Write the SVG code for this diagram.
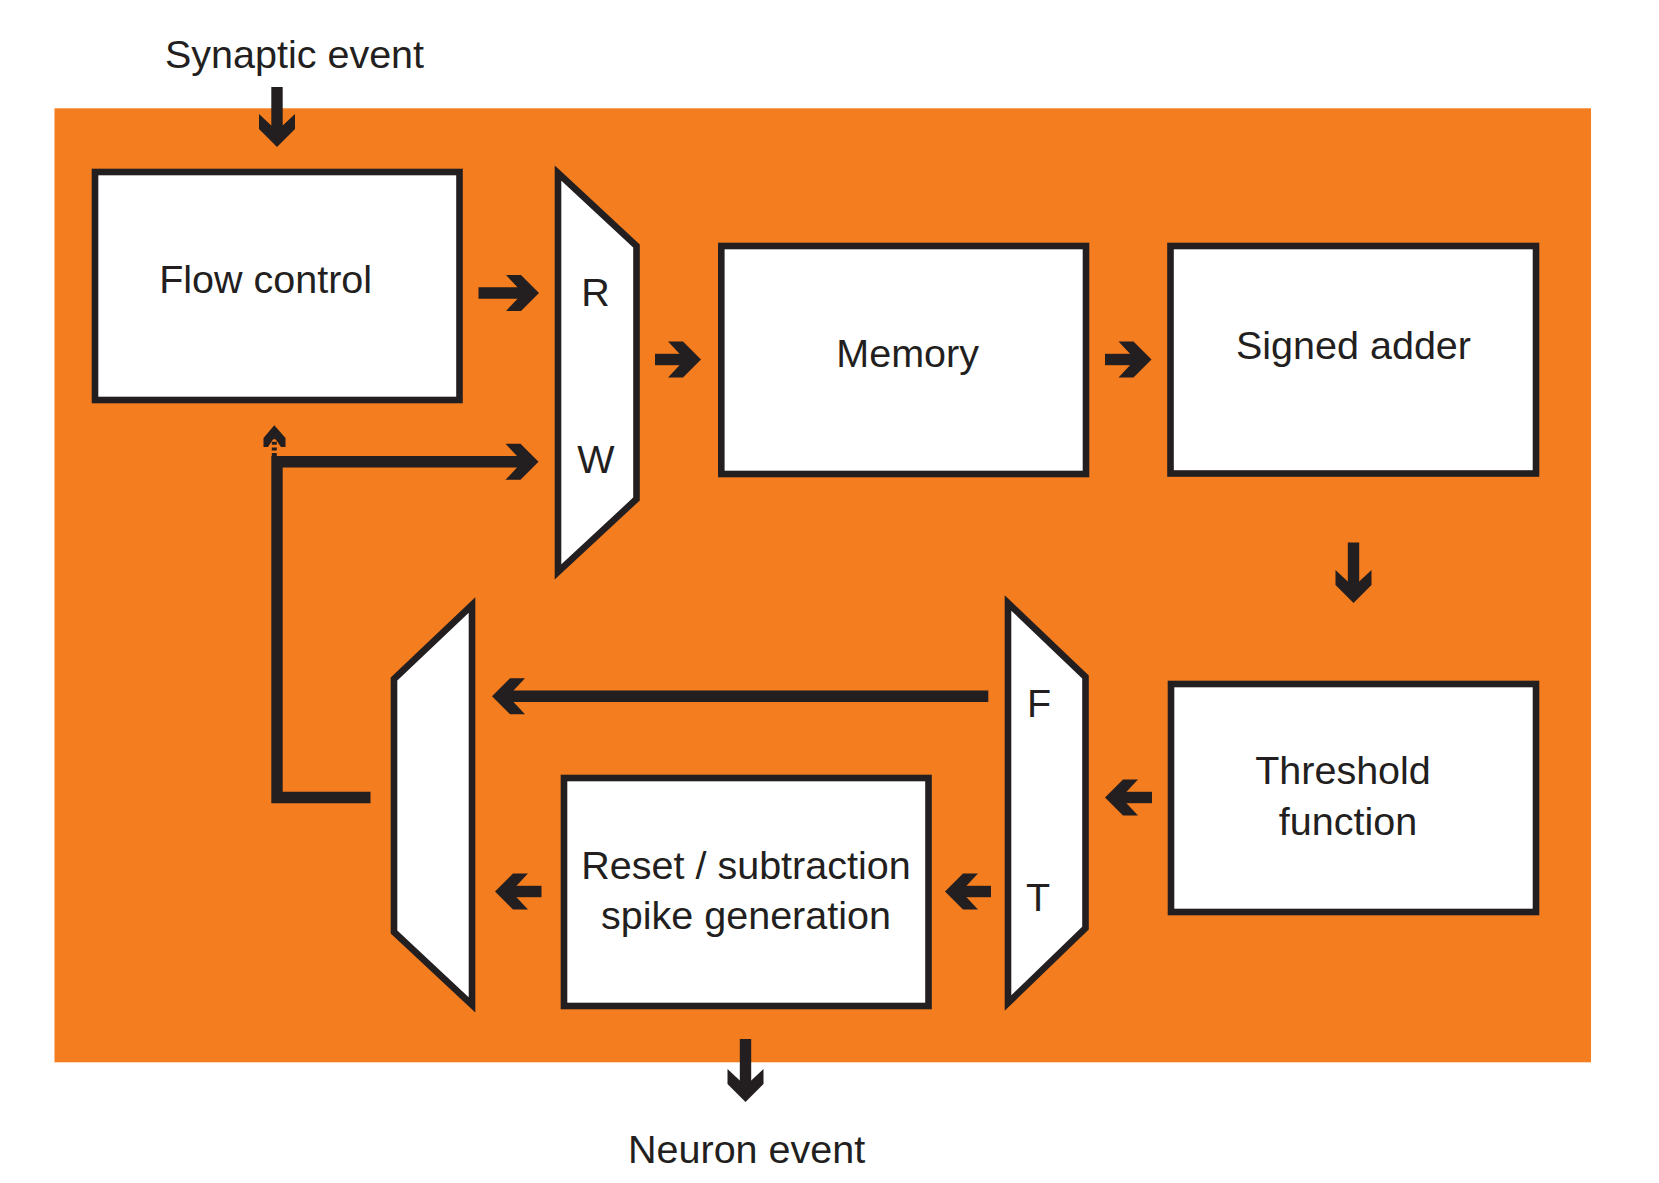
<svg xmlns="http://www.w3.org/2000/svg" xmlns:xlink="http://www.w3.org/1999/xlink" width="1659" height="1183" viewBox="0 0 1659 1183">
<style>
.box{fill:#fff;stroke:#231f20;stroke-width:6.6;stroke-linejoin:miter;stroke-miterlimit:10}
.lbl{font-family:"Liberation Sans",Arial,sans-serif;font-size:39.5px;fill:#231f20;text-anchor:middle}
.shaft{stroke:#231f20;stroke-width:11.4;fill:none;stroke-linecap:butt;stroke-linejoin:miter}
.hd{fill:#231f20}
</style>
<defs>
<path id="head" d="M0,0 L-18,-18 L-33,-18 L-21.5,-5.7 L-21.5,5.7 L-33,18 L-18,18 Z"/>
</defs>
<rect width="1659" height="1183" fill="#fff"/>
<rect id="background" x="54.5" y="108.3" width="1536.5" height="954" fill="#f47d20"/>

<g id="connectors">
  <!-- Synaptic event in -->
  <g transform="translate(277,147) rotate(90)"><line class="shaft" x1="-60" y1="0" x2="-20" y2="0"/><use href="#head" class="hd"/></g>
  <!-- Flow control -> R -->
  <g transform="translate(539,293)"><line class="shaft" x1="-60.5" y1="0" x2="-20" y2="0"/><use href="#head" class="hd"/></g>
  <!-- mux -> Memory -->
  <g transform="translate(701,359.5)"><line class="shaft" x1="-46" y1="0" x2="-20" y2="0"/><use href="#head" class="hd"/></g>
  <!-- Memory -> Signed adder -->
  <g transform="translate(1151.5,359.5)"><line class="shaft" x1="-46.5" y1="0" x2="-20" y2="0"/><use href="#head" class="hd"/></g>
  <!-- Signed adder -> Threshold -->
  <g transform="translate(1353.5,603) rotate(90)"><line class="shaft" x1="-60.5" y1="0" x2="-20" y2="0"/><use href="#head" class="hd"/></g>
  <!-- Threshold -> F/T mux -->
  <g transform="translate(1105,797.5) rotate(180)"><line class="shaft" x1="-47" y1="0" x2="-20" y2="0"/><use href="#head" class="hd"/></g>
  <!-- T -> Reset -->
  <g transform="translate(945,891.5) rotate(180)"><line class="shaft" x1="-46" y1="0" x2="-20" y2="0"/><use href="#head" class="hd"/></g>
  <!-- Reset -> left mux -->
  <g transform="translate(495,891.5) rotate(180)"><line class="shaft" x1="-46.5" y1="0" x2="-20" y2="0"/><use href="#head" class="hd"/></g>
  <!-- F -> left mux -->
  <g transform="translate(492,696.3) rotate(180)"><line class="shaft" x1="-496.3" y1="0" x2="-20" y2="0"/><use href="#head" class="hd"/></g>
  <!-- Neuron event out -->
  <g transform="translate(745.5,1102) rotate(90)"><line class="shaft" x1="-63" y1="0" x2="-20" y2="0"/><use href="#head" class="hd"/></g>
  <!-- feedback left mux -> W -->
  <polyline class="shaft" points="370.5,797.5 277,797.5 277,461.8 519,461.8"/>
  <g transform="translate(538.5,461.8)"><use href="#head" class="hd"/></g>
  <!-- dashed feedback to Flow control -->
  <line x1="274.3" y1="456" x2="274.3" y2="438" stroke="#231f20" stroke-width="5" stroke-dasharray="3 2.6"/>
  <polygon class="hd" points="263.5,447 263.5,438 274.3,425.3 285.5,438 285.5,447 281,447 274.3,437.5 268,447"/>
</g>

<g id="synaptic-event"><text class="lbl" x="294.5" y="68">Synaptic event</text></g>

<g id="flow-control">
  <rect class="box" x="95" y="172" width="364.5" height="228"/>
  <text class="lbl" x="265.6" y="293">Flow control</text>
</g>

<g id="rw-mux">
  <polygon class="box" points="558,173 636.5,246 636.5,499 558,572"/>
  <text class="lbl" x="595.5" y="306">R</text>
  <text class="lbl" x="596" y="472.7">W</text>
</g>

<g id="memory">
  <rect class="box" x="721.3" y="246" width="364.7" height="228"/>
  <text class="lbl" x="907.6" y="367.3">Memory</text>
</g>

<g id="signed-adder">
  <rect class="box" x="1170.5" y="246" width="365.5" height="227.5"/>
  <text class="lbl" x="1353.5" y="359.3">Signed adder</text>
</g>

<g id="threshold-function">
  <rect class="box" x="1171" y="684" width="365" height="228"/>
  <text class="lbl" x="1343" y="784">Threshold</text>
  <text class="lbl" x="1348" y="835">function</text>
</g>

<g id="ft-mux">
  <polygon class="box" points="1008,603 1085.5,677 1085.5,928 1008,1003"/>
  <text class="lbl" x="1039" y="716.7">F</text>
  <text class="lbl" x="1038" y="911">T</text>
</g>

<g id="reset-spike">
  <rect class="box" x="564" y="778" width="364.5" height="228"/>
  <text class="lbl" x="746" y="879">Reset / subtraction</text>
  <text class="lbl" x="746" y="929.3">spike generation</text>
</g>

<g id="output-mux">
  <polygon class="box" points="472,605 394,679 394,932 472,1005"/>
</g>

<g id="neuron-event"><text class="lbl" x="746.6" y="1163.3">Neuron event</text></g>
</svg>
